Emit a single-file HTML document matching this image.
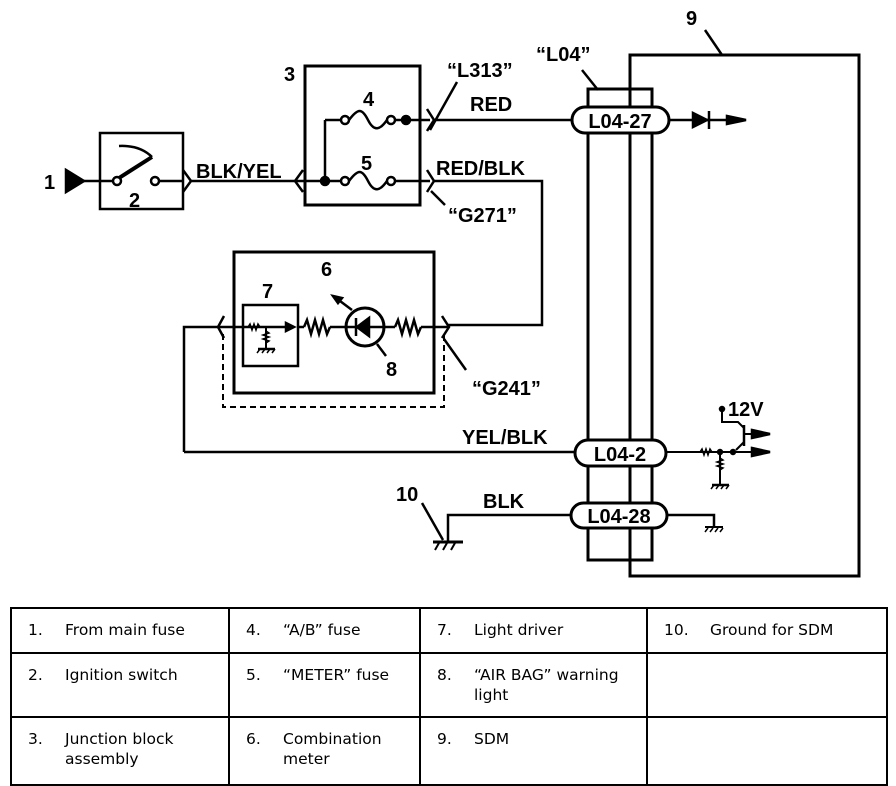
<!DOCTYPE html>
<html><head><meta charset="utf-8"><style>
body{margin:0;background:#fff;width:896px;height:786px;overflow:hidden;position:relative}
svg{position:absolute;left:0;top:0}
text{font-family:"Liberation Sans",sans-serif;font-weight:bold;font-size:20px;fill:#000}
table{position:absolute;left:10px;top:607px;border-collapse:collapse;font-family:"DejaVu Sans",sans-serif;font-size:15.5px}
td{border:2px solid #000;vertical-align:top;padding:11px 6px 0 16px;box-sizing:border-box;line-height:20px}
td span{display:inline-block;width:37px}
.c1{width:218px}.c2{width:191px}.c3{width:227px}.c4{width:240px}
.h{display:flex}
</style></head><body>
<svg width="896" height="600" viewBox="0 0 896 600" fill="none" stroke="#000" stroke-width="2.5">
<!-- 1 -->
<text x="44" y="189" stroke="none">1</text>
<polygon points="66,170 84,181 66,192" fill="#000"/>
<line x1="84" y1="181" x2="113" y2="181"/>
<rect x="100" y="133" width="83" height="76" stroke-width="2.5"/>
<circle cx="117" cy="181" r="4" fill="#fff"/>
<circle cx="155" cy="181" r="4" fill="#fff"/>
<line x1="119" y1="178" x2="152" y2="157" stroke-width="4"/>
<path d="M152,157 Q140,145 119,146" stroke-width="2.5"/>
<line x1="159" y1="181" x2="183" y2="181"/>
<text x="129" y="207" stroke="none">2</text>
<path d="M183,170 L191,181 L183,192"/>
<line x1="191" y1="181" x2="297" y2="181"/>
<path d="M303,170 L295,181 L303,192"/>
<text x="196" y="178" stroke="none">BLK/YEL</text>
<!-- 3 -->
<rect x="305" y="66" width="115" height="139" stroke-width="3"/>
<text x="284" y="81" stroke="none">3</text>
<line x1="295" y1="181" x2="341" y2="181"/>
<line x1="325" y1="120" x2="325" y2="181"/>
<line x1="325" y1="120" x2="341" y2="120"/>
<circle cx="325" cy="181" r="4" fill="#000"/>
<circle cx="345" cy="120" r="4"/><circle cx="391" cy="120" r="4"/>
<path d="M349,120 C358,108 362,108 368,120 C374,132 380,130 387,120"/>
<circle cx="406" cy="120" r="4" fill="#000"/>
<line x1="395" y1="120" x2="430" y2="120"/>
<text x="363" y="106" stroke="none">4</text>
<circle cx="345" cy="181" r="4"/><circle cx="391" cy="181" r="4"/>
<path d="M349,181 C358,169 362,169 368,181 C374,193 380,191 387,181"/>
<line x1="395" y1="181" x2="430" y2="181"/>
<text x="361" y="170" stroke="none">5</text>
<path d="M427,109 L434,120 L427,131"/>
<path d="M427,170 L434,181 L427,192"/>
<line x1="430" y1="130" x2="457" y2="82"/>
<text x="447" y="77" stroke="none">“L313”</text>
<line x1="434" y1="120" x2="572" y2="120"/>
<text x="470" y="111" stroke="none">RED</text>
<text x="436" y="175" stroke="none">RED/BLK</text>
<line x1="431" y1="191" x2="445" y2="205"/>
<text x="448" y="222" stroke="none">“G271”</text>
<path d="M434,181 H542 V325 H448"/>
<!-- 6 -->
<rect x="234" y="252" width="200" height="141" stroke-width="3"/>
<text x="321" y="276" stroke="none">6</text>
<rect x="243" y="305" width="55" height="61"/>
<text x="262" y="298" stroke="none">7</text>
<path d="M184,452 V327 H292"/>
<path d="M224,316 L218,327 L224,338"/>
<path d="M248,327 l2,-3 l2,6 l2,-6 l2,6 l2,-6 l2,3" stroke-width="1.5"/>
<polygon points="286,323 294,327 286,331" fill="#000"/>
<line x1="266" y1="327" x2="266" y2="348" stroke-width="2"/>
<path d="M266,331 l3,2 l-6,2 l6,2 l-6,2 l6,2 l-3,2" stroke-width="1.5"/>
<line x1="258" y1="349" x2="275" y2="349"/>
<path d="M260,349 l-3,4 M265,349 l-3,4 M270,349 l-3,4 M275,349 l-3,4" stroke-width="1.5"/>
<line x1="298" y1="327" x2="304" y2="327"/>
<path d="M304,327 l3,-7 l4,14 l4,-14 l4,14 l4,-14 l4,14 l3,-7"/>
<line x1="330" y1="327" x2="346" y2="327"/>
<circle cx="365" cy="327" r="19" stroke-width="3"/>
<polygon points="369,318 369,336 357,327" fill="#000"/>
<line x1="356" y1="318" x2="356" y2="336" stroke-width="2.5"/>
<line x1="346" y1="327" x2="384" y2="327"/>
<path d="M352,310 L336,298" /><polygon points="333,296 342,298 338,303" fill="#000"/>
<line x1="384" y1="327" x2="395" y2="327"/>
<path d="M395,327 l3,-7 l4,14 l4,-14 l4,14 l4,-14 l4,14 l3,-7"/>
<line x1="421" y1="327" x2="448" y2="327"/>
<path d="M442,316 L449,327 L442,338"/>
<line x1="444" y1="339" x2="466" y2="370"/>
<text x="472" y="395" stroke="none">“G241”</text>
<line x1="377" y1="344" x2="386" y2="356"/>
<text x="386" y="376" stroke="none">8</text>
<path d="M223,334 V407 H444 V334" stroke-dasharray="6,4" stroke-width="2"/>
<!-- SDM -->
<rect x="630" y="55" width="229" height="521" stroke-width="3"/>
<text x="686" y="25" stroke="none">9</text>
<line x1="705" y1="30" x2="722" y2="55"/>
<rect x="588" y="89" width="64" height="471" stroke-width="3"/>
<text x="536" y="61" stroke="none">“L04”</text>
<line x1="582" y1="70" x2="598" y2="90"/>
<rect x="572" y="107" width="97" height="26" rx="13" fill="#fff" stroke-width="3"/>
<text x="620" y="128" stroke="none" text-anchor="middle">L04-27</text>
<line x1="669" y1="120" x2="730" y2="120"/>
<polygon points="693,113 707,120 693,127" fill="#000"/>
<line x1="709" y1="111" x2="709" y2="129" stroke-width="2.5"/>
<polygon points="727,116 746,120 727,124" fill="#000"/>
<!-- YEL/BLK -->
<line x1="184" y1="452" x2="575" y2="452"/>
<text x="462" y="444" stroke="none">YEL/BLK</text>
<rect x="575" y="440" width="91" height="26" rx="13" fill="#fff" stroke-width="3"/>
<text x="620" y="461" stroke="none" text-anchor="middle">L04-2</text>
<line x1="666" y1="452" x2="752" y2="452" stroke-width="2"/>
<path d="M700,452 l2,-3 l2,6 l2,-6 l2,6 l2,-6 l2,3" stroke-width="1.5"/>
<circle cx="720" cy="452" r="2" fill="#000"/>
<line x1="720" y1="452" x2="720" y2="485" stroke-width="2"/>
<path d="M720,458 l3,2 l-6,2 l6,2 l-6,2 l6,2 l-3,2" stroke-width="1.5"/>
<line x1="712" y1="485" x2="729" y2="485"/>
<path d="M714,485 l-3,4 M719,485 l-3,4 M724,485 l-3,4 M729,485 l-3,4" stroke-width="1.5"/>
<circle cx="733" cy="452" r="2" fill="#000"/>
<polygon points="752,448 770,452 752,456" fill="#000"/>
<circle cx="722" cy="409" r="2" fill="#000"/>
<path d="M722,409 V422 H738 L744,428" stroke-width="2"/>
<line x1="744" y1="425" x2="744" y2="446" stroke-width="2.5"/>
<path d="M744,442 L736,450" stroke-width="2"/>
<line x1="744" y1="434" x2="752" y2="434" stroke-width="2"/>
<polygon points="752,430 770,434 752,438" fill="#000"/>
<text x="728" y="416" stroke="none">12V</text>
<!-- L04-28 -->
<path d="M571,515 H448 V542"/>
<line x1="433" y1="542" x2="463" y2="542" stroke-width="3"/>
<path d="M439,543 l-4,7 M447,543 l-4,7 M455,543 l-4,7" stroke-width="2"/>
<text x="396" y="501" stroke="none">10</text>
<line x1="422" y1="503" x2="443" y2="540"/>
<text x="483" y="508" stroke="none">BLK</text>
<rect x="571" y="503" width="96" height="25" rx="12.5" fill="#fff" stroke-width="3"/>
<text x="619" y="523" stroke="none" text-anchor="middle">L04-28</text>
<path d="M667,515 H714 V527"/>
<line x1="705" y1="527" x2="723" y2="527" stroke-width="2"/>
<path d="M708,528 l-3,4 M713,528 l-3,4 M718,528 l-3,4 M723,528 l-3,4" stroke-width="1.5"/>
</svg>
<table>
<tr style="height:45px"><td class="c1"><span>1.</span>From main fuse</td><td class="c2"><span>4.</span>“A/B” fuse</td><td class="c3"><span>7.</span>Light driver</td><td class="c4"><span style="width:46px">10.</span>Ground for SDM</td></tr>
<tr style="height:64px"><td class="c1"><span>2.</span>Ignition switch</td><td class="c2"><span>5.</span>“METER” fuse</td><td class="c3"><div class="h"><span style="flex:none">8.</span><div>“AIR BAG” warning light</div></div></td><td class="c4"></td></tr>
<tr style="height:68px"><td class="c1"><div class="h"><span style="flex:none">3.</span><div>Junction block assembly</div></div></td><td class="c2"><div class="h"><span style="flex:none">6.</span><div>Combination meter</div></div></td><td class="c3"><span>9.</span>SDM</td><td class="c4"></td></tr>
</table>
</body></html>
